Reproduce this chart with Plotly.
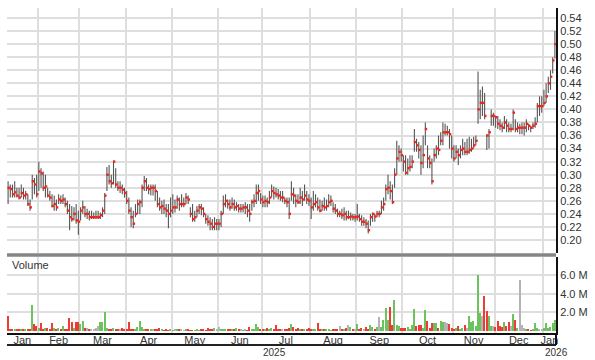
import pandas as pd
import plotly.graph_objects as go

# ---------------- data ----------------
start_date = "2025-01-13"
end_date = "2026-01-09"
holidays = ["2025-01-20", "2025-02-17", "2025-04-18", "2025-05-26", "2025-06-19",
            "2025-07-04", "2025-09-01", "2025-11-27", "2025-12-25", "2026-01-01"]
month_names = ["Jan", "Feb", "Mar", "Apr", "May", "Jun",
               "Jul", "Aug", "Sep", "Oct", "Nov", "Dec"]
prev_close = 0.285

high = [
    .29, .285, .285, .29, .28, .28, .285, .28, .275, .27,
    .262, .30, .295, .30, .32, .31, .305, .30, .28, .275,
    .27, .268, .262, .27, .268, .27, .265, .26, .255, .252,
    .25, .255, .245, .25, .26, .252, .248, .245, .245, .242,
    .245, .245, .242, .25, .272, .312, .315, .30, .322, .31,
    .29, .29, .285, .28, .275, .265, .25, .245, .255, .262,
    .262, .285, .298, .295, .285, .285, .285, .285, .275, .265,
    .26, .262, .255, .255, .265, .27, .262, .268, .265, .27,
    .265, .272, .268, .25, .255, .245, .252, .255, .255, .25,
    .24, .238, .235, .232, .235, .232, .232, .245, .268, .27,
    .262, .262, .265, .262, .258, .255, .255, .255, .258, .255,
    .255, .262, .27, .285, .285, .272, .268, .268, .265, .275,
    .285, .282, .28, .278, .275, .275, .265, .265, .265, .29,
    .28, .27, .27, .28, .275, .285, .275, .27, .265, .275,
    .27, .265, .262, .26, .265, .262, .27, .268, .258, .255,
    .248, .245, .248, .25, .245, .245, .242, .24, .24, .255,
    .24, .238, .235, .232, .23, .24, .242, .24, .245, .245,
    .26, .265, .285, .30, .29, .285, .31, .352, .345, .34,
    .33, .33, .325, .33, .33, .37, .355, .35, .345, .36,
    .38, .345, .33, .325, .34, .345, .36, .365, .38, .378,
    .375, .37, .36, .345, .345, .34, .345, .355, .35, .355,
    .358, .355, .358, .36, .458, .43, .435, .425, .362, .37,
    .40, .395, .39, .39, .385, .38, .39, .385, .38, .378,
    .40, .385, .38, .378, .38, .38, .385, .378, .375, .38,
    .388, .41, .42, .42, .43, .44, .45, .46, .48, .52,
]

low = [
    .255, .265, .265, .265, .265, .262, .265, .262, .262, .252,
    .245, .262, .27, .265, .275, .28, .275, .265, .265, .26,
    .25, .245, .245, .255, .255, .255, .25, .24, .215, .228,
    .23, .225, .208, .23, .24, .235, .232, .23, .232, .232,
    .232, .232, .232, .235, .24, .275, .285, .28, .285, .28,
    .275, .272, .27, .265, .255, .24, .22, .218, .235, .24,
    .24, .25, .275, .275, .27, .268, .268, .26, .25, .245,
    .24, .24, .235, .218, .235, .24, .242, .248, .245, .25,
    .25, .255, .255, .235, .228, .228, .235, .24, .238, .235,
    .225, .222, .215, .215, .215, .215, .215, .22, .24, .25,
    .248, .245, .248, .245, .245, .242, .242, .242, .24, .235,
    .228, .245, .25, .255, .26, .255, .25, .25, .25, .255,
    .265, .262, .265, .262, .26, .258, .255, .25, .232, .26,
    .255, .25, .255, .255, .252, .26, .255, .252, .232, .245,
    .25, .245, .242, .245, .245, .245, .25, .252, .242, .24,
    .235, .235, .232, .23, .23, .232, .23, .23, .228, .23,
    .228, .222, .222, .218, .21, .222, .228, .228, .235, .235,
    .24, .245, .26, .27, .262, .255, .28, .30, .32, .32,
    .305, .30, .30, .305, .31, .335, .335, .325, .30, .31,
    .345, .31, .31, .285, .32, .325, .33, .345, .345, .36,
    .36, .34, .325, .32, .325, .315, .325, .33, .33, .33,
    .332, .335, .34, .345, .378, .385, .39, .385, .338, .34,
    .375, .375, .372, .37, .368, .365, .37, .365, .365, .365,
    .368, .365, .365, .362, .362, .36, .365, .368, .365, .37,
    .372, .38, .39, .395, .405, .41, .425, .43, .455, .478,
]

close = [
    .28, .278, .27, .273, .268, .265, .272, .268, .27, .255,
    .25, .29, .285, .27, .305, .302, .28, .282, .268, .265,
    .252, .255, .25, .262, .26, .262, .255, .245, .235, .232,
    .24, .23, .228, .245, .25, .24, .24, .235, .235, .235,
    .235, .235, .238, .245, .268, .30, .29, .287, .32, .285,
    .28, .28, .277, .272, .26, .245, .235, .225, .24, .255,
    .258, .28, .29, .28, .278, .28, .28, .275, .255, .25,
    .252, .248, .245, .24, .245, .25, .25, .262, .255, .255,
    .255, .265, .262, .24, .232, .235, .245, .25, .248, .24,
    .232, .228, .225, .22, .225, .225, .225, .24, .255, .26,
    .255, .25, .255, .25, .252, .248, .248, .25, .25, .245,
    .24, .258, .26, .272, .275, .262, .258, .26, .258, .265,
    .275, .272, .27, .268, .265, .265, .26, .258, .24, .27,
    .268, .26, .258, .265, .262, .268, .262, .26, .25, .255,
    .258, .25, .245, .252, .25, .252, .258, .26, .248, .245,
    .24, .24, .238, .24, .235, .235, .236, .235, .235, .236,
    .232, .228, .228, .225, .215, .235, .24, .236, .24, .24,
    .25, .255, .278, .28, .275, .258, .30, .325, .335, .33,
    .32, .303, .31, .312, .32, .35, .345, .338, .318, .33,
    .37, .325, .318, .29, .33, .34, .338, .352, .365, .365,
    .365, .362, .34, .325, .335, .33, .338, .34, .335, .335,
    .338, .34, .345, .352, .40, .41, .41, .39, .36, .365,
    .39, .39, .388, .378, .375, .372, .38, .375, .37, .37,
    .395, .37, .372, .372, .372, .372, .378, .375, .372, .375,
    .378, .405, .405, .405, .41, .42, .44, .45, .475, .50,
]

volume_m = [
    1.6, 0.2, 0.15, 0.1, 0.2, 0.1, 0.15, 0.2, 0.2, 0.1,
    0.1, 2.8, 0.7, 0.5, 0.25, 0.8, 0.2, 0.25, 0.25, 0.2,
    0.8, 0.3, 0.2, 0.3, 0.2, 0.55, 0.15, 0.2, 1.4, 0.9,
    0.3, 0.9, 0.9, 0.7, 1.1, 0.3, 0.3, 0.1, 0.2, 0.2,
    0.3, 0.55, 0.9, 0.9, 2.0, 0.3, 0.2, 0.2, 0.25, 0.1,
    0.1, 0.15, 0.3, 0.2, 0.15, 0.9, 0.2, 0.15, 0.2, 0.4,
    1.0, 0.4, 0.2, 0.1, 0.2, 0.1, 0.2, 0.1, 0.2, 0.25,
    0.1, 0.05, 0.1, 0.05, 0.1, 0.05, 0.1, 0.15, 0.1, 0.1,
    0.05, 0.1, 0.1, 0.05, 0.05, 0.05, 0.1, 0.05, 0.1, 0.1,
    0.05, 0.3, 0.2, 0.1, 0.3, 0.1, 0.4, 0.15, 0.2, 0.2,
    0.2, 0.1, 0.1, 0.2, 0.25, 0.1, 0.1, 0.05, 0.1, 0.05,
    0.4, 0.1, 0.2, 0.7, 0.4, 0.2, 0.1, 0.1, 0.3, 0.1,
    0.3, 0.1, 0.6, 0.2, 0.1, 0.1, 0.2, 0.1, 0.3, 0.7,
    0.4, 0.15, 0.3, 0.1, 0.15, 0.1, 0.1, 0.3, 0.1, 0.1,
    0.1, 0.8, 0.2, 0.1, 0.1, 0.1, 0.1, 0.05, 0.1, 0.1,
    0.15, 0.55, 0.1, 0.1, 0.3, 0.6, 0.4, 0.1, 0.1, 0.7,
    0.2, 0.3, 0.2, 0.45, 0.2, 0.6, 0.45, 0.2, 0.45, 1.45,
    0.4, 1.2, 2.5, 1.2, 2.6, 0.6, 3.3, 0.6, 0.55, 0.3,
    0.3, 0.3, 0.35, 0.2, 0.6, 2.4, 0.55, 0.6, 0.6, 0.3,
    2.2, 1.1, 0.3, 0.8, 0.8, 0.8, 0.3, 1.1, 0.9, 0.9,
    0.8, 0.7, 0.3, 0.2, 0.3, 0.5, 0.2, 0.3, 0.6, 0.3,
    1.6, 0.9, 1.1, 0.5, 6.1, 1.9, 1.6, 3.8, 2.1, 1.6,
    0.55, 0.55, 0.45, 1.0, 0.55, 0.45, 0.9, 0.55, 0.9, 0.5,
    1.8, 1.2, 0.3, 5.5, 0.6, 0.3, 0.1, 0.1, 0.05, 0.1,
    0.8, 0.3, 0.2, 0.15, 0.3, 0.8, 0.3, 0.45, 0.8, 1.2,
]

price_ticks = [0.20, 0.22, 0.24, 0.26, 0.28, 0.30, 0.32, 0.34, 0.36,
               0.38, 0.40, 0.42, 0.44, 0.46, 0.48, 0.50, 0.52, 0.54]
volume_ticks = [2, 4, 6]
volume_tick_text = ["2.0 M", "4.0 M", "6.0 M"]

# ---------------- derived positions ----------------
dates = pd.bdate_range(start_date, end_date)
dates = dates[~dates.isin(pd.to_datetime(holidays))]
n = min(len(dates), len(close))
dates = dates[:n]
idx = list(range(n))

periods = pd.Series(dates.to_period("M"))
month_bounds, month_centres, month_labels = [], [], []
for per, grp in periods.groupby(periods, sort=True):
    first, last = grp.index[0], grp.index[-1]
    if first > 0:
        month_bounds.append(first - 0.5)
    month_centres.append((first + last) / 2)
    month_labels.append(month_names[per.month - 1])
year_first = {}
for i, d in enumerate(dates):
    year_first.setdefault(d.year, i)

bx, by = [], []
for i in idx:
    bx += [i, i, None]
    by += [low[i], high[i], None]

vol_colors = []
for i in idx:
    p = prev_close if i == 0 else close[i - 1]
    if close[i] > p + 1e-9:
        vol_colors.append("#6cc35e")
    elif close[i] < p - 1e-9:
        vol_colors.append("#ee3b33")
    else:
        vol_colors.append("#b4b4b4")

# ---------------- figure ----------------
W, H = 595, 360
m_l, m_r, m_t, m_b = 7, 32, 8, 27
ph = H - m_t - m_b
y_sep = 255

def py(ypix):
    return (H - m_b - ypix) / ph

fig = go.Figure()
fig.add_trace(go.Scatter(x=bx, y=by, mode="lines", xaxis="x", yaxis="y",
                         line=dict(color="#555555", width=1.1),
                         hoverinfo="skip", showlegend=False))
fig.add_trace(go.Scatter(x=[i + 0.3 for i in idx], y=close, mode="markers",
                         xaxis="x", yaxis="y",
                         marker=dict(symbol="square", size=2.4, color="#e8281e",
                                     line=dict(width=0)),
                         showlegend=False))
fig.add_trace(go.Bar(x=idx, y=volume_m, xaxis="x2", yaxis="y2",
                     marker=dict(color=vol_colors, line=dict(width=0)),
                     width=0.62, showlegend=False))

grid_c = "#dedede"
font = dict(family="Liberation Sans, Arial, sans-serif", size=11, color="#333333")
xr = [-0.5, n - 0.5]

common_x = dict(range=xr, showgrid=False, zeroline=False,
                tickmode="array", tickvals=month_centres, ticktext=month_labels,
                ticks="", ticklen=0, tickfont=font,
                minor=dict(tickmode="array", tickvals=month_bounds,
                           showgrid=True, gridcolor=grid_c, gridwidth=1.5))

fig.update_layout(
    width=W, height=H,
    margin=dict(l=m_l, r=m_r, t=m_t, b=m_b),
    paper_bgcolor="white", plot_bgcolor="white",
    bargap=0,
    showlegend=False,
    xaxis=dict(**common_x, anchor="y", showticklabels=False, matches="x2"),
    xaxis2=dict(**common_x, anchor="y2", showticklabels=True,
                ticklabelstandoff=-4,
                showline=True, linecolor="#111111", linewidth=2),
    yaxis=dict(domain=[py(253), 1], range=[0.54 - 235 / 653, 0.54 + 10 / 653],
               side="right", tickmode="array", tickvals=price_ticks,
               tickformat=".2f", showgrid=True, gridcolor=grid_c, gridwidth=1.5,
               zeroline=False, showline=True, linecolor="#111111", linewidth=2,
               ticks="", tickfont=font),
    yaxis2=dict(domain=[0, py(257)], range=[-0.25, 8.0], side="right",
                tickmode="array", tickvals=volume_ticks, ticktext=volume_tick_text,
                showgrid=True, gridcolor=grid_c, gridwidth=1.5, zeroline=False,
                showline=True, linecolor="#111111", linewidth=2,
                ticks="", tickfont=font),
)

fig.add_shape(type="line", xref="paper", yref="paper", x0=0, x1=1,
              y0=py(y_sep), y1=py(y_sep), line=dict(color="#858585", width=3.5))
fig.add_shape(type="line", xref="paper", yref="paper", x0=0, x1=1,
              y0=py(345), y1=py(345), line=dict(color="#222222", width=2))
fig.add_shape(type="line", xref="paper", yref="paper", x0=1, x1=1,
              y0=py(345), y1=0, line=dict(color="#111111", width=2))

fig.add_annotation(text="Volume", xref="paper", yref="paper", x=0.006, y=py(265),
                   xanchor="left", yanchor="middle", showarrow=False, font=font)

years = sorted(year_first)
for k, yv in enumerate(years):
    a = year_first[yv] - 0.5
    if k + 1 < len(years):
        b = year_first[years[k + 1]] - 0.5
        fig.add_annotation(text=str(yv), x=(a + b) / 2, xref="x2", yref="paper",
                           y=py(352), xanchor="center", yanchor="middle",
                           showarrow=False, font=dict(font, size=10))
    else:
        fig.add_annotation(text=str(yv), x=a, xref="x2", yref="paper",
                           y=py(352), xanchor="left", yanchor="middle",
                           showarrow=False, font=dict(font, size=10))

fig.write_html("out.html")
